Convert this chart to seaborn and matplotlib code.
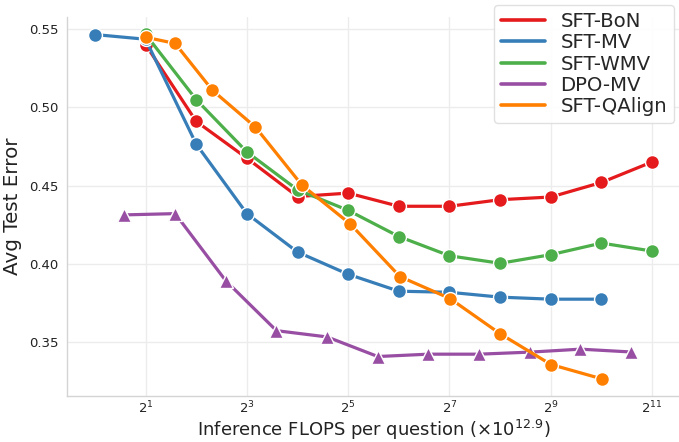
import matplotlib
matplotlib.use("Agg")
import matplotlib.pyplot as plt
from matplotlib.lines import Line2D
from matplotlib.ticker import FixedLocator, FuncFormatter, NullLocator
import numpy as np
import pandas as pd
import seaborn as sns

# FLOPS budgets (units of 10^12.9) and average test error per method
bon_x = [2, 4, 8, 16, 32, 64, 128, 256, 512, 1024, 2048]
bon_y = [0.540, 0.491, 0.4675, 0.443, 0.4452, 0.4368, 0.4368, 0.441, 0.4427, 0.452, 0.4651]

mv_x = [1, 2, 4, 8, 16, 32, 64, 128, 256, 512, 1024]
mv_y = [0.5464, 0.5434, 0.4765, 0.4321, 0.4076, 0.3934, 0.3826, 0.3819, 0.3788, 0.3775, 0.3775]

wmv_x = [2, 4, 8, 16, 32, 64, 128, 256, 512, 1024, 2048]
wmv_y = [0.5466, 0.5049, 0.4715, 0.4473, 0.4342, 0.4175, 0.4052, 0.4004, 0.4059, 0.4133, 0.4082]

dpo_x = [1.5, 3, 6, 12, 24, 48, 96, 192, 384, 768, 1536]
dpo_y = [0.4313, 0.4321, 0.3892, 0.3574, 0.3534, 0.3409, 0.3424, 0.3424, 0.3437, 0.3456, 0.3438]

qalign_x = [2, 3, 5, 9, 17, 33, 65, 129, 257, 513, 1025]
qalign_y = [0.5447, 0.5407, 0.5108, 0.4873, 0.4503, 0.4254, 0.3919, 0.3779, 0.3553, 0.3358, 0.3267]

methods = ["SFT-BoN", "SFT-MV", "SFT-WMV", "DPO-MV", "SFT-QAlign"]
series = {
    "SFT-BoN": (bon_x, bon_y, "o"),
    "SFT-MV": (mv_x, mv_y, "o"),
    "SFT-WMV": (wmv_x, wmv_y, "o"),
    "DPO-MV": (dpo_x, dpo_y, "^"),
    "SFT-QAlign": (qalign_x, qalign_y, "o"),
}

x_ticks = [2, 8, 32, 128, 512, 2048]

sns.set_theme(style="whitegrid")
plt.rcParams["font.family"] = ["DejaVu Sans"]
plt.rcParams["grid.color"] = "#ececec"
plt.rcParams["axes.edgecolor"] = "#d0d0d0"

palette = dict(zip(methods, sns.color_palette("Set1", 5)))

fig = plt.figure(figsize=(6.79, 4.42), dpi=100)
ax = fig.add_axes([67 / 679, 46 / 442, 613 / 679, 379 / 442])

for name in methods:
    xs, ys, mk = series[name]
    df = pd.DataFrame({"flops": xs, "err": ys})
    sns.lineplot(data=df, x="flops", y="err", ax=ax, color=palette[name],
                 marker=mk, markersize=10 if mk == "o" else 9.5,
                 markeredgecolor="white", markeredgewidth=1.0,
                 linewidth=2.3, label=name, legend=False, zorder=3)

ax.set_xscale("log", base=2)
ax.xaxis.set_major_locator(FixedLocator(x_ticks))
ax.xaxis.set_minor_locator(NullLocator())
ax.xaxis.set_major_formatter(
    FuncFormatter(lambda v, p: r"$\mathdefault{2^{%d}}$" % round(np.log2(v))))
ax.set_yticks([0.35, 0.40, 0.45, 0.50, 0.55])
ax.yaxis.set_major_formatter(FuncFormatter(lambda v, p: f"{v:.2f}"))

ax.tick_params(axis="both", labelsize=9.5, colors="#222222", length=0, pad=6)
ax.tick_params(axis="x", pad=3)
ax.set_xlabel(r"Inference FLOPS per question ($\times 10^{12.9}$)",
              fontsize=13.0, color="#222222", va="bottom")
# keep the label's descenders just inside the bottom edge of the figure
ax.xaxis.set_label_coords(0.5, -45.6 / 379)
ax.set_ylabel("Avg Test Error", fontsize=14.3, color="#222222", labelpad=5)

sns.despine(ax=ax, top=True, right=True)
for s in ("left", "bottom"):
    ax.spines[s].set_linewidth(1.0)
    ax.spines[s].set_color("#d4d4d4")

handles = [Line2D([0], [0], color=palette[n], linewidth=2.6) for n in methods]
leg = ax.legend(handles, methods, loc="upper right",
                bbox_to_anchor=(674 / 679, 1 - 5 / 442),
                bbox_transform=fig.transFigure, borderaxespad=0,
                fontsize=14.2, labelspacing=0.12, handlelength=2.2,
                handletextpad=0.8, borderpad=0.35, frameon=True,
                fancybox=True, framealpha=0.9)
leg.get_frame().set_edgecolor("#dddddd")

fig.savefig("out.png", dpi=100)
